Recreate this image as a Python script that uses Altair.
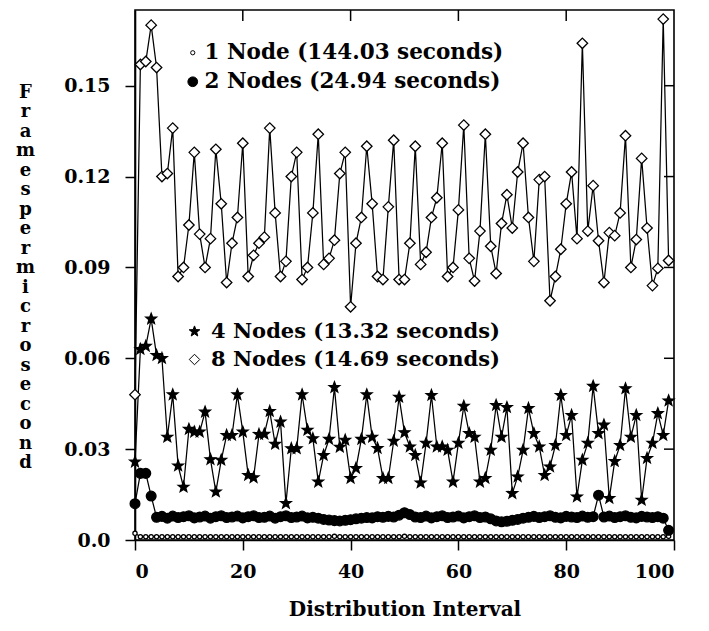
import math
import altair as alt
import pandas as pd

# ---------------- data ----------------
interval = list(range(100))

series_names = ["1 Node (144.03 seconds)", "2 Nodes (24.94 seconds)",
                "4 Nodes (13.32 seconds)", "8 Nodes (14.69 seconds)"]

node1 = [0.0022, 0.0011, 0.0011, 0.0011, 0.0011, 0.0011, 0.0011, 0.0011, 0.0011, 0.0011,
         0.0011, 0.0011, 0.0011, 0.0011, 0.0011, 0.0011, 0.0011, 0.0011, 0.0011, 0.0011,
         0.0011, 0.0011, 0.0011, 0.0011, 0.0011, 0.0011, 0.0011, 0.0011, 0.0011, 0.0011,
         0.0011, 0.0011, 0.0011, 0.0011, 0.0011, 0.0011, 0.0011, 0.0012, 0.0011, 0.0011,
         0.0011, 0.0011, 0.0011, 0.0011, 0.0011, 0.0011, 0.0011, 0.0011, 0.0011, 0.0011,
         0.0012, 0.0011, 0.0011, 0.0011, 0.0011, 0.0011, 0.0011, 0.0011, 0.0011, 0.0011,
         0.0011, 0.0011, 0.0011, 0.0011, 0.0011, 0.0011, 0.0011, 0.0011, 0.0011, 0.0011,
         0.0011, 0.0011, 0.0011, 0.0011, 0.0011, 0.0011, 0.0011, 0.0011, 0.0011, 0.0011,
         0.0011, 0.0011, 0.0011, 0.0011, 0.0011, 0.0011, 0.0011, 0.0011, 0.0011, 0.0011,
         0.0011, 0.0011, 0.0011, 0.0011, 0.0011, 0.0011, 0.0011, 0.0011, 0.0011, 0.0012]

node2 = [0.0120, 0.0220, 0.0220, 0.0145, 0.0075, 0.0078, 0.0072, 0.0079, 0.0074, 0.0077,
         0.0080, 0.0073, 0.0076, 0.0079, 0.0072, 0.0077, 0.0080, 0.0074, 0.0076, 0.0079,
         0.0073, 0.0077, 0.0080, 0.0074, 0.0075, 0.0079, 0.0072, 0.0077, 0.0080, 0.0074,
         0.0076, 0.0079, 0.0073, 0.0075, 0.0072, 0.0068, 0.0066, 0.0064, 0.0063, 0.0065,
         0.0067, 0.0070, 0.0072, 0.0074, 0.0073, 0.0077, 0.0075, 0.0078, 0.0076, 0.0082,
         0.0090, 0.0084, 0.0076, 0.0074, 0.0079, 0.0073, 0.0077, 0.0080, 0.0074, 0.0076,
         0.0079, 0.0073, 0.0077, 0.0080, 0.0074, 0.0076, 0.0070, 0.0063, 0.0060, 0.0062,
         0.0065, 0.0068, 0.0072, 0.0075, 0.0078, 0.0074, 0.0077, 0.0080, 0.0075, 0.0073,
         0.0078, 0.0076, 0.0074, 0.0079, 0.0075, 0.0077, 0.0148, 0.0076, 0.0079, 0.0074,
         0.0077, 0.0080, 0.0075, 0.0073, 0.0078, 0.0076, 0.0074, 0.0077, 0.0072, 0.0032]

node4 = [0.0258, 0.0630, 0.0640, 0.0730, 0.0610, 0.0600, 0.0340, 0.0480, 0.0245, 0.0175,
         0.0366, 0.0357, 0.0357, 0.0423, 0.0266, 0.0159, 0.0264, 0.0346, 0.0346, 0.0480,
         0.0357, 0.0214, 0.0206, 0.0349, 0.0350, 0.0425, 0.0317, 0.0390, 0.0121, 0.0302,
         0.0302, 0.0480, 0.0363, 0.0335, 0.0192, 0.0280, 0.0333, 0.0504, 0.0307, 0.0330,
         0.0204, 0.0237, 0.0333, 0.0480, 0.0340, 0.0303, 0.0204, 0.0204, 0.0327, 0.0472,
         0.0355, 0.0308, 0.0280, 0.0189, 0.0320, 0.0478, 0.0308, 0.0308, 0.0297, 0.0192,
         0.0320, 0.0442, 0.0352, 0.0340, 0.0192, 0.0204, 0.0297, 0.0445, 0.0340, 0.0438,
         0.0154, 0.0209, 0.0297, 0.0435, 0.0352, 0.0308, 0.0214, 0.0242, 0.0313, 0.0478,
         0.0346, 0.0412, 0.0143, 0.0264, 0.0320, 0.0508, 0.0352, 0.0380, 0.0138, 0.0260,
         0.0313, 0.0500, 0.0340, 0.0412, 0.0132, 0.0270, 0.0320, 0.0418, 0.0346, 0.0460]

node8 = [0.048, 0.157, 0.158, 0.170, 0.156, 0.120, 0.121, 0.136, 0.087, 0.090,
         0.104, 0.128, 0.101, 0.090, 0.0995, 0.129, 0.111, 0.085, 0.098, 0.1065,
         0.131, 0.087, 0.094, 0.098, 0.100, 0.136, 0.108, 0.087, 0.092, 0.120,
         0.128, 0.086, 0.090, 0.108, 0.134, 0.091, 0.093, 0.099, 0.121, 0.128,
         0.077, 0.098, 0.1065, 0.130, 0.111, 0.087, 0.086, 0.110, 0.132, 0.086,
         0.086, 0.098, 0.130, 0.091, 0.095, 0.1065, 0.113, 0.131, 0.087, 0.090,
         0.109, 0.137, 0.093, 0.0855, 0.102, 0.134, 0.097, 0.088, 0.1045, 0.114,
         0.103, 0.1215, 0.131, 0.1065, 0.092, 0.119, 0.120, 0.079, 0.087, 0.096,
         0.111, 0.1215, 0.0995, 0.164, 0.102, 0.117, 0.0988, 0.085, 0.1015, 0.1005,
         0.108, 0.1335, 0.090, 0.0992, 0.126, 0.103, 0.084, 0.0897, 0.172, 0.0923]

x_ticks = [0, 20, 40, 60, 80, 100]
y_ticks = [0.0, 0.03, 0.06, 0.09, 0.12, 0.15]

# ---------------- table ----------------
rows = []
for name, vals in zip(series_names, [node1, node2, node4, node8]):
    for xi, v in zip(interval, vals):
        rows.append({"interval": xi, "fps": v, "series": name})
df = pd.DataFrame(rows)

inner_y = pd.DataFrame({"fps": y_ticks[1:]})
inner_x = pd.DataFrame({"interval": x_ticks[1:-1]})

# ---------------- style ----------------
FONT = "DejaVu Serif"
W, H = 539, 530

# five-pointed star path in the unit square
pts = []
for k in range(10):
    r = 1.0 if k % 2 == 0 else 0.42
    a = math.radians(-90 + 36 * k)
    pts.append(f"{r * math.cos(a):.3f},{r * math.sin(a):.3f}")
STAR = "M" + "L".join(pts) + "Z"

xscale = alt.Scale(domain=[0, 100], nice=False, zero=False)
yscale = alt.Scale(domain=[0, 0.175], nice=False, zero=False)

xaxis = alt.Axis(values=x_ticks, format="d", title="Distribution Interval",
                 tickSize=10, labelPadding=12, titleY=69, titleBaseline="middle",
                 titleFontSize=20, labelFontSize=19, grid=False)
yaxis = alt.Axis(values=y_ticks,
                 labelExpr="datum.value == 0 ? '0.0' : format(datum.value, '.2f')",
                 title=list("Framespermicrosecond"), titleAngle=0,
                 titleAlign="center", titleBaseline="middle",
                 titleX=-110, titleY=H / 2 - 183, titleLineHeight=19.5,
                 titleFontSize=18, tickSize=10, labelPadding=15,
                 labelFontSize=19, grid=False)

X = alt.X("interval:Q", scale=xscale, axis=xaxis)
Y = alt.Y("fps:Q", scale=yscale, axis=yaxis)

base = alt.Chart(df)

lines = base.mark_line(color="black", strokeWidth=1.25).encode(
    x=X, y=Y, detail="series:N",
)

groupA = series_names[:2]
groupB = series_names[2:]

legendA = alt.Legend(title=None, orient="none", legendX=47, legendY=32,
                     labelFont=FONT, labelFontWeight="bold", labelFontSize=21.5,
                     labelColor="black", labelLimit=0,
                     symbolStrokeWidth=1, symbolOpacity=1, rowPadding=6,
                     labelOffset=1, padding=0)
legendB = alt.Legend(title=None, orient="none", legendX=49, legendY=311,
                     labelFont=FONT, labelFontWeight="bold", labelFontSize=21,
                     labelColor="black", labelLimit=0,
                     symbolStrokeWidth=1, symbolOpacity=1, rowPadding=6,
                     labelOffset=6, padding=0)


def point_layer(group, shapes, fills, sizes, legend):
    return base.transform_filter(
        alt.FieldOneOfPredicate(field="series", oneOf=group)
    ).mark_point(filled=True, strokeWidth=1.3, opacity=1).encode(
        x=X, y=Y,
        shape=alt.Shape("series:N", scale=alt.Scale(domain=group, range=shapes), legend=legend),
        fill=alt.Fill("series:N", scale=alt.Scale(domain=group, range=fills), legend=legend),
        stroke=alt.Stroke("series:N", scale=alt.Scale(domain=group, range=["black", "black"]),
                          legend=legend),
        size=alt.Size("series:N", scale=alt.Scale(domain=group, range=sizes), legend=legend),
    )


ptsA = point_layer(groupA, ["circle", "circle"], ["white", "black"], [18, 95], legendA)
ptsB = point_layer(groupB, [STAR, "diamond"], ["black", "white"], [125, 110], legendB)

right_ticks = alt.Chart(inner_y).mark_rule(color="black", strokeWidth=1.5).encode(
    y=Y,
    x=alt.value(W - 10),
    x2=alt.value(W),
)
top_ticks = alt.Chart(inner_x).mark_rule(color="black", strokeWidth=1.5).encode(
    x=X,
    y=alt.value(0),
    y2=alt.value(11),
)

chart = alt.layer(lines, ptsA, ptsB, right_ticks, top_ticks).resolve_scale(
    shape="independent", fill="independent", size="independent", stroke="independent"
).properties(
    width=W, height=H,
    autosize=alt.AutoSizeParams(type="none"),
    padding={"left": 127, "top": 2, "right": 20, "bottom": 88},
    background="white",
).configure_view(
    stroke="black", strokeWidth=1.6
).configure_axis(
    labelFont=FONT, titleFont=FONT, labelFontWeight="bold", titleFontWeight="bold",
    labelColor="black", titleColor="black", tickColor="black", domainColor="black",
    tickWidth=1.5, domainWidth=1.6,
)

chart.save("out.html", embed_options={"renderer": "svg", "actions": False})
